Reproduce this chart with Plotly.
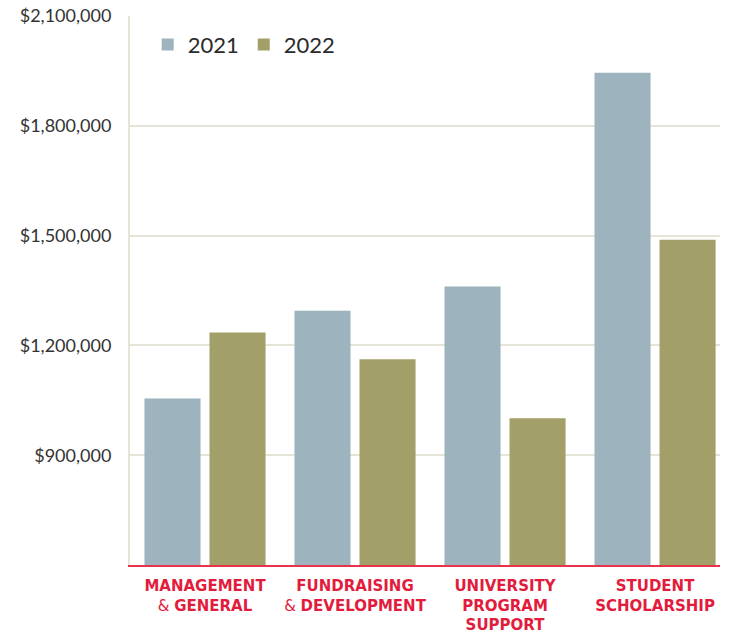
import plotly.graph_objects as go

categories = [
    "<b>MANAGEMENT</b><br>& <b>GENERAL</b>",
    "<b>FUNDRAISING</b><br>& <b>DEVELOPMENT</b>",
    "<b>UNIVERSITY</b><br><b>PROGRAM</b><br><b>SUPPORT</b>",
    "<b>STUDENT</b><br><b>SCHOLARSHIP</b>",
]
values_2021 = [1055000, 1295000, 1361000, 1945000]
values_2022 = [1235000, 1162000, 1001000, 1489000]
tick_vals = [900000, 1200000, 1500000, 1800000, 2100000]
tick_text = ["$900,000", "$1,200,000", "$1,500,000", "$1,800,000", "$2,100,000"]

fig = go.Figure()
fig.add_trace(go.Bar(name="2021", x=categories, y=values_2021, marker_color="#9db3bd", marker_line_width=0))
fig.add_trace(go.Bar(name="2022", x=categories, y=values_2022, marker_color="#a39f68", marker_line_width=0))

fig.update_layout(
    width=729, height=636,
    margin=dict(l=130, r=9, t=16, b=71, autoexpand=False),
    paper_bgcolor="white", plot_bgcolor="white",
    barmode="group", bargap=0.133, bargroupgap=0.138,
    font=dict(family="Lato", color="#333333"),
    legend=dict(orientation="h", x=0.03, y=0.986, xanchor="left", yanchor="top",
                font=dict(size=22, color="#2a2a2a", family="Lato"), itemwidth=30,
                bgcolor="rgba(0,0,0,0)"),
    showlegend=True,
)
fig.update_yaxes(
    range=[600000, 2100000], tickvals=tick_vals, ticktext=tick_text,
    showgrid=True, gridcolor="#e6e4d6", gridwidth=2,
    showline=True, linecolor="#e6e4d6", linewidth=2,
    zeroline=False, ticks="", ticklabelstandoff=13, automargin=False,
    tickfont=dict(size=18, color="#333333", family="Lato"),
)
fig.update_xaxes(
    range=[-0.5, 3.433],
    showline=True, linecolor="#e8334a", linewidth=2,
    showgrid=False, ticks="", automargin=False, ticklabelstandoff=6,
    tickfont=dict(size=15, color="#e21c3c", family="DejaVu Sans"),
    tickangle=0,
)

fig.write_html("out.html")
